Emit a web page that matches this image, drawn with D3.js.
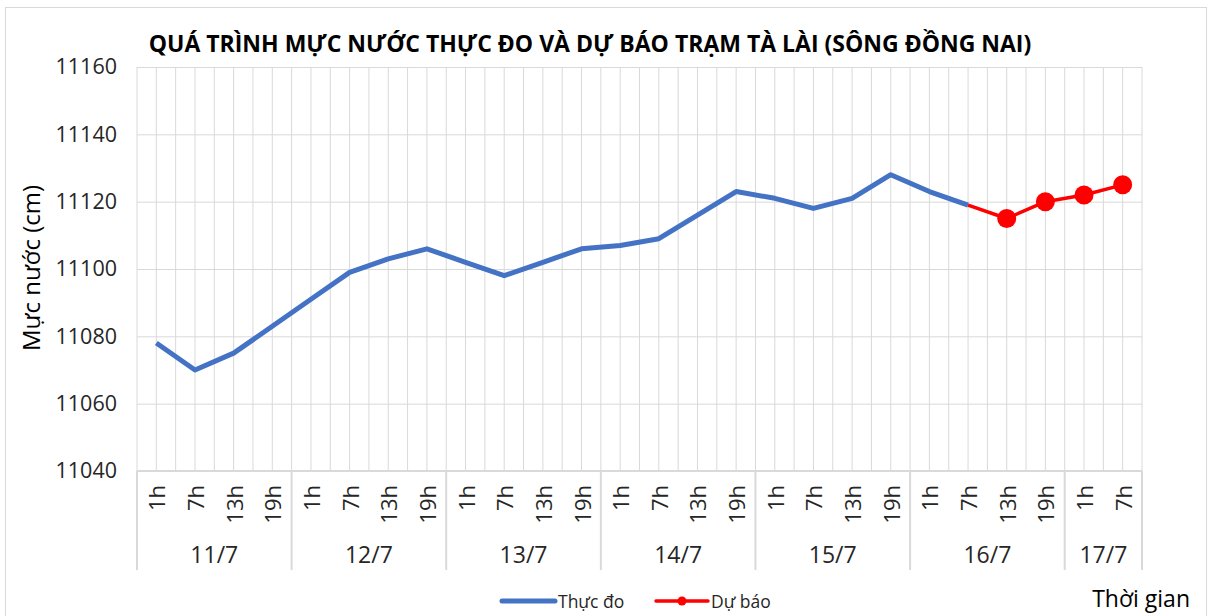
<!DOCTYPE html>
<html>
<head>
<meta charset="utf-8">
<script src="https://cdn.jsdelivr.net/npm/d3@7"></script>
<style>
  body { margin: 0; background: #fff; }
  svg { display: block; font-family: "Open Sans", "Noto Sans", sans-serif; }
</style>
</head>
<body>
<div id="chart"></div>
<script>
// data
const days = ["11/7", "12/7", "13/7", "14/7", "15/7", "16/7", "17/7"];
const hours = ["1h", "7h", "13h", "19h"];
const hoursPerDay = [4, 4, 4, 4, 4, 4, 2];
const observed = [11078, 11070, 11075, 11083, 11091, 11099, 11103, 11106,
                  11102, 11098, 11102, 11106, 11107, 11109, 11116, 11123,
                  11121, 11118, 11121, 11128, 11123, 11119];
const forecastStart = 21; // forecast joins the last observed point
const forecast = [11119, 11115, 11120, 11122, 11125];
const yTicks = [11040, 11060, 11080, 11100, 11120, 11140, 11160];

// flat list of categories (day + hour)
const cats = [];
days.forEach((d, i) => {
  for (let h = 0; h < hoursPerDay[i]; h++) cats.push({ day: d, hour: hours[h], key: d + " " + hours[h] });
});

const W = 1212, H = 616;
const margin = { top: 67, right: 70, bottom: 145, left: 137 };
const width = W - margin.left - margin.right;
const height = H - margin.top - margin.bottom;
const txt = "#262626";

const svg = d3.select("#chart").append("svg")
  .attr("width", W).attr("height", H);

// chart border
svg.append("rect")
  .attr("x", 5.5).attr("y", 7.5).attr("width", W - 11).attr("height", H)
  .attr("fill", "#fff").attr("stroke", "#d9d9d9");

const g = svg.append("g").attr("transform", `translate(${margin.left},${margin.top})`);

const x = d3.scaleBand().domain(cats.map(c => c.key)).range([0, width]).padding(0);
const y = d3.scaleLinear().domain([11040, 11160]).range([height, 0]);
const cx = k => x(k) + x.bandwidth() / 2;

// vertical gridlines: at band edges and band centres
const vLines = [];
cats.forEach(c => { vLines.push(x(c.key)); vLines.push(cx(c.key)); });
vLines.push(width);
g.append("g").selectAll("line").data(vLines).join("line")
  .attr("x1", d => d).attr("x2", d => d)
  .attr("y1", 0).attr("y2", height)
  .attr("stroke", "#d9d9d9").attr("stroke-width", 1);

// horizontal gridlines + y labels
const yAxis = g.append("g")
  .call(d3.axisLeft(y).tickValues(yTicks).tickSize(-width).tickFormat(d3.format("d")).tickPadding(20));
yAxis.select(".domain").remove();
yAxis.selectAll(".tick line").attr("stroke", "#d9d9d9");
yAxis.selectAll(".tick text").attr("font-size", 21.5).attr("fill", txt)
  .attr("font-family", "'Open Sans', sans-serif");

// x axis line
g.append("line").attr("x1", 0).attr("x2", width).attr("y1", height).attr("y2", height)
  .attr("stroke", "#d9d9d9").attr("stroke-width", 2);

// hour labels
g.append("g").selectAll("text").data(cats).join("text")
  .attr("transform", d => `translate(${cx(d.key)},${height + 14}) rotate(-90)`)
  .attr("text-anchor", "end").attr("dominant-baseline", "central")
  .attr("font-size", 22).attr("fill", txt)
  .text(d => d.hour);

// day groups
const groups = [];
let idx = 0;
days.forEach((d, i) => {
  const first = cats[idx].key, last = cats[idx + hoursPerDay[i] - 1].key;
  groups.push({ day: d, x0: x(first), x1: x(last) + x.bandwidth() });
  idx += hoursPerDay[i];
});
const sepX = [0].concat(groups.map(gr => gr.x1));
g.append("g").selectAll("line").data(sepX).join("line")
  .attr("x1", d => d).attr("x2", d => d)
  .attr("y1", height).attr("y2", height + 99)
  .attr("stroke", "#d9d9d9").attr("stroke-width", 2);
g.append("g").selectAll("text").data(groups).join("text")
  .attr("x", d => (d.x0 + d.x1) / 2).attr("y", height + 92)
  .attr("text-anchor", "middle").attr("font-size", 23).attr("fill", txt)
  .text(d => d.day);

// lines
const line = d3.line().x(d => cx(d.k)).y(d => y(d.v));
const obsPts = observed.map((v, i) => ({ k: cats[i].key, v }));
const fcPts = forecast.map((v, i) => ({ k: cats[forecastStart + i].key, v }));

g.append("path").datum(obsPts).attr("d", line)
  .attr("fill", "none").attr("stroke", "#4472c4").attr("stroke-width", 5)
  .attr("stroke-linejoin", "round");
g.append("path").datum(fcPts).attr("d", line)
  .attr("fill", "none").attr("stroke", "#ff0000").attr("stroke-width", 3.5)
  .attr("stroke-linejoin", "round");
g.append("g").selectAll("circle").data(fcPts.slice(1)).join("circle")
  .attr("cx", d => cx(d.k)).attr("cy", d => y(d.v)).attr("r", 9.5)
  .attr("fill", "#ff0000");

// title
svg.append("text").attr("x", 590).attr("y", 52).attr("text-anchor", "middle")
  .attr("font-size", 23).attr("font-weight", "bold").attr("fill", "#000")
  .text("QUÁ TRÌNH MỰC NƯỚC THỰC ĐO VÀ DỰ BÁO TRẠM TÀ LÀI (SÔNG ĐỒNG NAI)");

// y axis title
svg.append("text").attr("transform", "translate(40,268) rotate(-90)")
  .attr("text-anchor", "middle").attr("font-size", 24).attr("fill", "#000")
  .text("Mực nước (cm)");

// x axis title
svg.append("text").attr("x", 1190).attr("y", 607).attr("text-anchor", "end")
  .attr("font-size", 23).attr("fill", "#000").text("Thời gian");

// legend
const lg = svg.append("g").attr("transform", "translate(500,601)");
lg.append("line").attr("x1", 2).attr("x2", 55).attr("y1", 0).attr("y2", 0)
  .attr("stroke", "#4472c4").attr("stroke-width", 5).attr("stroke-linecap", "round");
lg.append("text").attr("x", 58).attr("y", 6.5).attr("font-size", 17.5).attr("fill", txt).text("Thực đo");
lg.append("line").attr("x1", 156).attr("x2", 208).attr("y1", 0).attr("y2", 0)
  .attr("stroke", "#ff0000").attr("stroke-width", 3.5).attr("stroke-linecap", "round");
lg.append("circle").attr("cx", 182).attr("cy", 0).attr("r", 4.5).attr("fill", "#ff0000");
lg.append("text").attr("x", 211).attr("y", 6.5).attr("font-size", 17.5).attr("fill", txt).text("Dự báo");
</script>
</body>
</html>
